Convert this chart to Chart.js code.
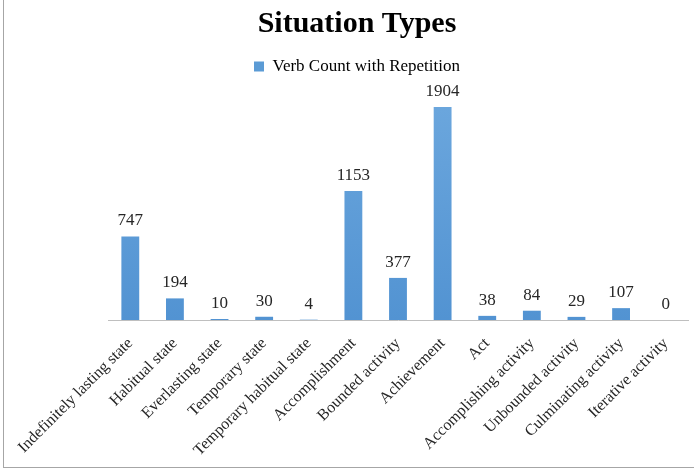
<!DOCTYPE html>
<html>
<head>
<meta charset="utf-8">
<script src="https://cdn.jsdelivr.net/npm/chart.js@4.4.0/dist/chart.umd.min.js"></script>
<style>
  html, body { margin: 0; padding: 0; background: #fff; overflow: hidden; }
  #frame {
    position: absolute; left: 3px; top: 0; width: 720px; height: 467px;
    border-left: 1px solid #a6a6a6; border-bottom: 1px solid #a6a6a6;
  }
  #wrap { position: absolute; left: 0; top: 0; width: 714px; height: 467px; }
</style>
</head>
<body>
<div id="frame"><div id="wrap"><canvas id="situationChart"></canvas></div></div>
<script>
// situation types and their verb counts
const categories = [
  'Indefinitely lasting state', 'Habitual state', 'Everlasting state', 'Temporary state',
  'Temporary habitual state', 'Accomplishment', 'Bounded activity', 'Achievement', 'Act',
  'Accomplishing activity', 'Unbounded activity', 'Culminating activity', 'Iterative activity'
];
const verbCounts = [747, 194, 10, 30, 4, 1153, 377, 1904, 38, 84, 29, 107, 0];
const seriesName = 'Verb Count with Repetition';

const serif = '"Liberation Serif", "Times New Roman", Times, serif';
const ctx = document.getElementById('situationChart');

// draws the numbers above each bar
const valueLabels = {
  id: 'valueLabels',
  afterDatasetsDraw(chart) {
    const c = chart.ctx;
    const meta = chart.getDatasetMeta(0);
    c.save();
    c.font = '17px ' + serif;
    c.fillStyle = '#262626';
    c.textAlign = 'center';
    c.textBaseline = 'alphabetic';
    meta.data.forEach((bar, i) => {
      c.fillText(String(verbCounts[i]), bar.x, bar.y - 11);
    });
    c.restore();
  }
};

function barFill(context) {
  const chart = context.chart;
  const area = chart.chartArea;
  if (!area) return '#5b9bd5';
  const g = chart.ctx.createLinearGradient(0, area.top, 0, area.bottom);
  g.addColorStop(0, '#6da8de');
  g.addColorStop(1, '#5293d2');
  return g;
}

// eslint-disable-next-line no-undef
new Chart(ctx, {
  type: 'bar',
  data: {
    labels: categories,
    datasets: [
      {
        label: seriesName,
        data: verbCounts,
        backgroundColor: barFill,
        barPercentage: 0.4,
        categoryPercentage: 1,
      },
    ],
  },
  options: {
    responsive: true,
    maintainAspectRatio: false,
    animation: false,
    layout: { padding: { top: 6, right: 30, bottom: 1, left: 22 } },
    plugins: {
      title: {
        display: true,
        text: 'Situation Types',
        color: '#000',
        font: { family: serif, size: 30, weight: 'bold' },
        padding: { top: 0, bottom: 10 },
      },
      legend: {
        display: true,
        labels: {
          color: '#262626',
          font: { family: serif, size: 17 },
          boxWidth: 10,
          boxHeight: 10,
          padding: 6,
          generateLabels() {
            return [{ text: seriesName, fillStyle: '#5b9bd5', strokeStyle: '#5b9bd5', lineWidth: 0 }];
          },
        },
      },
      tooltip: { enabled: false },
    },
    scales: {
      x: {
        grid: { display: false },
        border: { display: true, color: '#bfbfbf', width: 1 },
        ticks: {
          autoSkip: false,
          minRotation: 45,
          maxRotation: 45,
          color: '#262626',
          font: { family: serif, size: 16 },
          padding: 6,
        },
      },
      y: {
        min: 0,
        max: 2100,
        grid: { display: false },
        border: { display: false },
        ticks: { display: false },
        afterFit(scale) {
          scale.width = 82;
        },
      },
    },
  },
  plugins: [valueLabels],
});
</script>
</body>
</html>
